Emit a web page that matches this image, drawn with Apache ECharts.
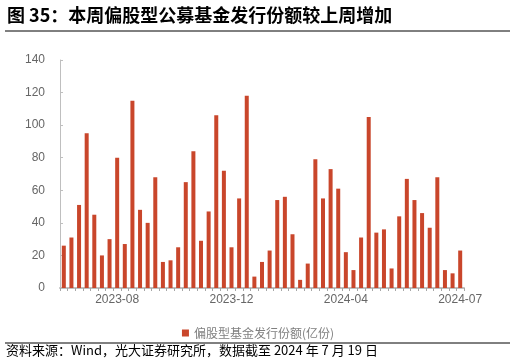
<!DOCTYPE html>
<html>
<head>
<meta charset="utf-8">
<script src="https://cdn.jsdelivr.net/npm/echarts@6/dist/echarts.min.js"></script>
<style>
	html,body{margin:0;padding:0;background:#fff;}
	#chart{width:516px;height:364px;}
</style>
</head>
<body>
<div id="chart"></div>
<script>
// 周度（周五），国庆、春节周无数据
var weeks = [
	'2023-07-07','2023-07-14','2023-07-21','2023-07-28','2023-08-04','2023-08-11','2023-08-18','2023-08-25',
	'2023-09-01','2023-09-08','2023-09-15','2023-09-22','2023-09-29','2023-10-13','2023-10-20','2023-10-27',
	'2023-11-03','2023-11-10','2023-11-17','2023-11-24','2023-12-01','2023-12-08','2023-12-15','2023-12-22',
	'2023-12-29','2024-01-05','2024-01-12','2024-01-19','2024-01-26','2024-02-02','2024-02-09','2024-02-23',
	'2024-03-01','2024-03-08','2024-03-15','2024-03-22','2024-03-29','2024-04-05','2024-04-12','2024-04-19',
	'2024-04-26','2024-05-03','2024-05-10','2024-05-17','2024-05-24','2024-05-31','2024-06-07','2024-06-14',
	'2024-06-21','2024-06-28','2024-07-05','2024-07-12','2024-07-19'
];
var issued = [
	26, 31, 51, 95, 45, 20, 30, 80, 27, 115, 48, 40, 68,
	16, 17, 25, 65, 84, 29, 47, 106, 72, 25, 55, 118, 7,
	16, 23, 54, 56, 33, 5, 15, 79, 55, 73, 61, 22, 11,
	31, 105, 34, 36, 12, 44, 67, 54, 46, 37, 68, 11, 9, 23
];
var seriesName = '偏股型基金发行份额(亿份)';
var titleText = '图 35：本周偏股型公募基金发行份额较上周增加';
var sourceText = '资料来源：Wind，光大证券研究所，数据截至 2024 年 7 月 19 日';

var chart = echarts.init(document.getElementById('chart'));

var option = {
	animation: false,
	color: ['#C9462B'],
	grid: {
		left: 60,
		right: 52,
		top: 60,
		bottom: 76
	},
	legend: {
		data: [seriesName],
		bottom: 20,
		left: 'center',
		itemWidth: 7,
		itemHeight: 7,
		itemGap: 4,
		icon: 'rect',
		textStyle: {
			color: '#7f7f7f',
			fontSize: 12,
			fontFamily: 'Noto Sans CJK SC'
		}
	},
	xAxis: {
		type: 'category',
		data: weeks,
		axisLine: {lineStyle: {color: '#bfbfbf', width: 2}},
		axisTick: {
			show: true,
			interval: 0,
			length: 3,
			lineStyle: {color: '#a6a6a6'}
		},
		axisLabel: {
			interval: function (i) { return i % 15 === 7; },
			color: '#666666',
			fontSize: 12,
			margin: 6,
			fontFamily: 'Liberation Sans',
			formatter: function (v) { return v.slice(0, 7); }
		}
	},
	yAxis: {
		type: 'value',
		min: 0,
		max: 140,
		interval: 20,
		splitLine: {show: false},
		axisLine: {show: true, lineStyle: {color: '#bfbfbf'}},
		axisTick: {show: true, inside: true, length: 3, lineStyle: {color: '#bfbfbf'}},
		axisLabel: {
			color: '#666666',
			fontSize: 12,
			margin: 15,
			fontFamily: 'Liberation Sans'
		}
	},
	series: [
		{
			name: seriesName,
			type: 'bar',
			barWidth: 4,
			data: issued
		}
	],
	graphic: [
		{
			type: 'text',
			left: 7,
			top: 6,
			style: {
				text: titleText,
				fill: '#000',
				font: 'bold 18px "Noto Sans CJK SC"'
			}
		},
		{
			type: 'line',
			shape: {x1: 5, y1: 31, x2: 510, y2: 31},
			style: {stroke: '#000', lineWidth: 1}
		},
		{
			type: 'line',
			shape: {x1: 5, y1: 343, x2: 510, y2: 343},
			style: {stroke: '#000', lineWidth: 1}
		},
		{
			type: 'text',
			left: 6,
			top: 344,
			style: {
				text: sourceText,
				fill: '#000',
				font: '13px "Noto Sans CJK SC"'
			}
		}
	]
};

chart.setOption(option);
</script>
</body>
</html>
